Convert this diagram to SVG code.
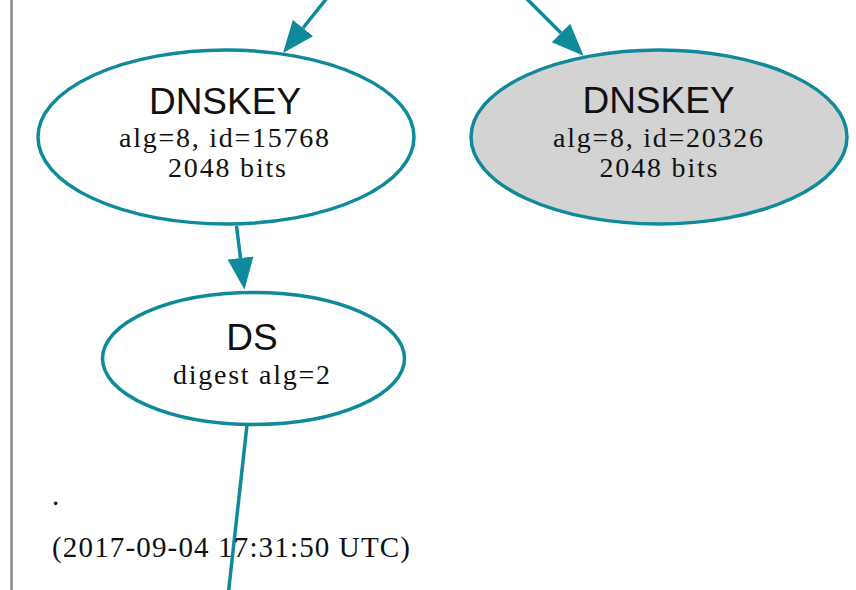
<svg xmlns="http://www.w3.org/2000/svg" width="856" height="590" viewBox="0 0 856 590">
  <defs>
    <marker id="arrow" markerUnits="userSpaceOnUse" markerWidth="34" markerHeight="28" refX="0" refY="13" orient="auto">
      <path d="M0,0 L32,13 L0,26 z" fill="#0f8a9a"/>
    </marker>
  </defs>
  <style>
    .node { fill: #ffffff; stroke: #0f8a9a; stroke-width: 3.5; }
    .node.ksk { fill: #d3d3d3; }
    .edge { fill: none; stroke: #0f8a9a; stroke-width: 3.5; }
    .title { font-family: "Liberation Sans", Arial, sans-serif; font-size: 37px; fill: #111; text-anchor: middle; }
    .detail { font-family: "Liberation Serif", "Times New Roman", serif; font-size: 28px; fill: #111; text-anchor: middle; }
    .label { font-family: "Liberation Serif", "Times New Roman", serif; font-size: 29px; fill: #111; }
  </style>

  <rect width="856" height="590" fill="#ffffff"/>
  <!-- zone cluster border -->
  <line x1="11.5" y1="0" x2="11.5" y2="590" stroke="#8a8a8a" stroke-width="2.5"/>

  <g id="edges">
    <path class="edge" d="M327,-2 L303,28" marker-end="url(#arrow)"/>
    <path class="edge" d="M526,-2 L561,33" marker-end="url(#arrow)"/>
    <path class="edge" d="M236.5,226 L240.5,258" marker-end="url(#arrow)"/>
    <path class="edge" d="M247,425 L228.5,592"/>
  </g>

  <g id="dnskey-15768">
    <ellipse class="node" cx="226" cy="137" rx="188" ry="87"/>
    <text class="title" x="225" y="114">DNSKEY</text>
    <text class="detail" x="224" y="147" textLength="210" lengthAdjust="spacing">alg=8, id=15768</text>
    <text class="detail" x="227" y="177" textLength="118" lengthAdjust="spacing">2048 bits</text>
  </g>

  <g id="dnskey-20326">
    <ellipse class="node ksk" cx="659" cy="137" rx="188" ry="87"/>
    <text class="title" x="658.5" y="113">DNSKEY</text>
    <text class="detail" x="658" y="147" textLength="210" lengthAdjust="spacing">alg=8, id=20326</text>
    <text class="detail" x="658.5" y="177" textLength="118" lengthAdjust="spacing">2048 bits</text>
  </g>

  <g id="ds">
    <ellipse class="node" cx="253.5" cy="358.5" rx="151" ry="66"/>
    <text class="title" x="252" y="350">DS</text>
    <text class="detail" x="251.5" y="384" textLength="157" lengthAdjust="spacing">digest alg=2</text>
  </g>

  <g id="zone-label">
    <text class="label" x="52" y="505">.</text>
    <text class="label" x="52" y="557" textLength="358" lengthAdjust="spacing">(2017-09-04 17:31:50 UTC)</text>
  </g>
</svg>
